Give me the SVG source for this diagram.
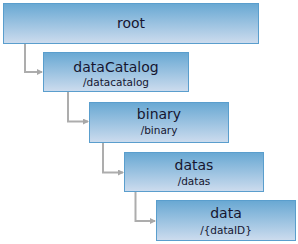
<svg xmlns="http://www.w3.org/2000/svg" width="298" height="244" viewBox="0 0 298 244">
<defs>
<linearGradient id="g" x1="0" y1="0" x2="0" y2="1">
<stop offset="0" stop-color="#68a8d3"/>
<stop offset="1" stop-color="#cddcee"/>
</linearGradient>
<marker id="ah" markerWidth="6" markerHeight="6" refX="5" refY="3" orient="auto" markerUnits="userSpaceOnUse">
<path d="M0,0 L6,3 L0,6 Z" fill="#a8a8a8"/>
</marker>
</defs>
<style>
.box{fill:url(#g);stroke:#5a9ecd;stroke-width:1}
.t{font-family:"DejaVu Sans",sans-serif;fill:#161630;text-anchor:middle}
.m{font-size:14px}
.s{font-size:10.5px}
.c{fill:none;stroke:#adadad;stroke-width:2}
</style>
<rect width="298" height="244" fill="#ffffff"/>
<g id="connectors">
<path class="c" d="M25,44 V72 H42" marker-end="url(#ah)"/>
<path class="c" d="M68,92 V121.5 H88" marker-end="url(#ah)"/>
<path class="c" d="M103,143 V172.5 H123" marker-end="url(#ah)"/>
<path class="c" d="M135.5,192 V221 H155" marker-end="url(#ah)"/>
</g>
<g id="root">
<rect class="box" x="3.5" y="3.5" width="255" height="40"/>
<text class="t m" x="131" y="28">root</text>
</g>
<g id="dataCatalog">
<rect class="box" x="43.5" y="52.5" width="145" height="39"/>
<text class="t m" x="116" y="72">dataCatalog</text>
<text class="t s" x="116" y="85.5">/datacatalog</text>
</g>
<g id="binary">
<rect class="box" x="89.5" y="102.5" width="139" height="40"/>
<text class="t m" x="159" y="119">binary</text>
<text class="t s" x="159" y="133.5">/binary</text>
</g>
<g id="datas">
<rect class="box" x="124.5" y="152.5" width="139" height="39"/>
<text class="t m" x="194" y="170">datas</text>
<text class="t s" x="194" y="184.5">/datas</text>
</g>
<g id="data">
<rect class="box" x="156.5" y="200.5" width="139" height="40"/>
<text class="t m" x="226" y="218">data</text>
<text class="t s" x="226" y="233.5">/{dataID}</text>
</g>
</svg>
